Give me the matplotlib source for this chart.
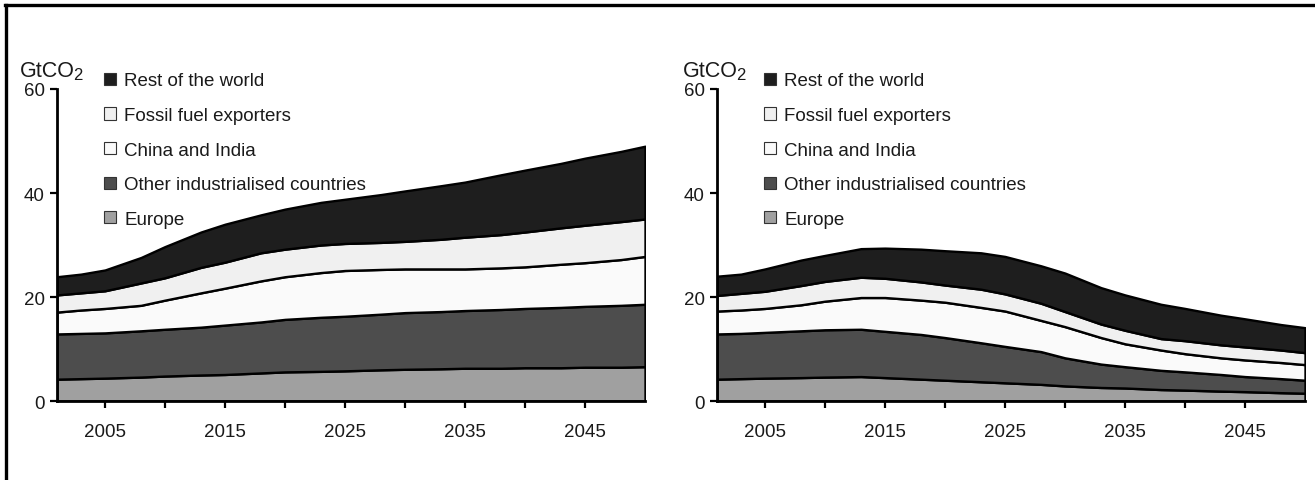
import matplotlib
matplotlib.use("Agg")
import matplotlib.pyplot as plt
from matplotlib.patches import Patch
from matplotlib.lines import Line2D

plt.rcParams['font.family'] = ['Liberation Sans', 'DejaVu Sans']

years = [2001, 2003, 2005, 2008, 2010, 2013, 2015, 2018, 2020, 2023, 2025,
         2028, 2030, 2033, 2035, 2038, 2040, 2043, 2045, 2048, 2050]

labels = ["Europe", "Other industrialised countries", "China and India",
          "Fossil fuel exporters", "Rest of the world"]
colors = ["#a0a0a0", "#4d4d4d", "#fafafa", "#f0f0f0", "#1e1e1e"]

# cumulative top of each band (GtCO2), left chart
left_europe = [4.2, 4.3, 4.4, 4.6, 4.8, 5.0, 5.1, 5.4, 5.6, 5.7, 5.8,
               6.0, 6.1, 6.2, 6.3, 6.3, 6.4, 6.4, 6.5, 6.5, 6.6]
left_other = [12.9, 13.0, 13.1, 13.5, 13.8, 14.2, 14.6, 15.2, 15.7, 16.1, 16.3,
              16.7, 17.0, 17.2, 17.4, 17.6, 17.8, 18.0, 18.2, 18.4, 18.6]
left_china = [17.1, 17.5, 17.8, 18.4, 19.4, 20.8, 21.7, 23.1, 23.9, 24.7, 25.1,
              25.3, 25.4, 25.4, 25.4, 25.6, 25.8, 26.3, 26.6, 27.2, 27.8]
left_fossil = [20.4, 20.8, 21.2, 22.7, 23.7, 25.7, 26.7, 28.5, 29.2, 30.0, 30.3,
               30.5, 30.7, 31.1, 31.5, 32.0, 32.5, 33.3, 33.8, 34.5, 35.0]
left_rest = [23.9, 24.4, 25.2, 27.6, 29.7, 32.5, 34.0, 35.8, 36.9, 38.2, 38.8,
             39.7, 40.4, 41.4, 42.1, 43.5, 44.4, 45.7, 46.7, 48.0, 49.0]

# cumulative top of each band (GtCO2), right chart
right_europe = [4.2, 4.3, 4.4, 4.5, 4.6, 4.7, 4.5, 4.2, 4.0, 3.7, 3.5,
                3.2, 2.9, 2.6, 2.5, 2.2, 2.1, 1.9, 1.8, 1.6, 1.5]
right_other = [12.9, 13.0, 13.2, 13.5, 13.7, 13.8, 13.4, 12.8, 12.2, 11.2, 10.5,
               9.5, 8.3, 7.1, 6.6, 5.9, 5.6, 5.1, 4.7, 4.3, 4.0]
right_china = [17.3, 17.5, 17.8, 18.5, 19.2, 19.9, 19.9, 19.4, 19.0, 18.0, 17.3,
               15.5, 14.3, 12.2, 11.0, 9.8, 9.1, 8.3, 7.9, 7.4, 7.0]
right_fossil = [20.3, 20.7, 21.1, 22.2, 23.0, 23.8, 23.6, 22.9, 22.3, 21.5, 20.6,
                18.8, 17.2, 14.8, 13.6, 12.0, 11.6, 10.8, 10.4, 9.8, 9.3]
right_rest = [24.0, 24.4, 25.4, 27.1, 28.0, 29.3, 29.4, 29.2, 28.9, 28.5, 27.8,
              26.0, 24.6, 21.8, 20.4, 18.6, 17.8, 16.5, 15.8, 14.7, 14.1]

fig = plt.figure(figsize=(13.15, 4.81), dpi=100)


def draw_panel(rect, tops, ylab_x):
    ax = fig.add_axes(rect)
    lower = [0] * len(years)
    for top, c in zip(tops, colors):
        ax.fill_between(years, lower, top, facecolor=c, edgecolor="black",
                        linewidth=1.7, zorder=2)
        lower = top
    ax.set_xlim(2001, 2050)
    ax.set_ylim(0, 60)
    ax.set_yticks([0, 20, 40, 60])
    ax.set_xticks([2005, 2015, 2025, 2035, 2045])
    ax.set_xticks([2010, 2020, 2030, 2040], minor=True)
    for s in ["top", "right"]:
        ax.spines[s].set_visible(False)
    for s in ["left", "bottom"]:
        ax.spines[s].set_linewidth(2)
        ax.spines[s].set_zorder(3)
    ax.tick_params(which="both", length=5, width=1.6, labelsize=13.5,
                   color="black", labelcolor="#1a1a1a")
    ax.tick_params(axis="x", which="both", pad=11)
    ax.tick_params(axis="y", pad=4)
    ax.set_facecolor("none")

    handles = [Patch(facecolor=c, edgecolor="#333333", linewidth=0.8)
               for c in colors[::-1]]
    ax.legend(handles, labels[::-1], loc="upper left",
              bbox_to_anchor=(0.08, 1.053), frameon=False, fontsize=13.5,
              handlelength=0.62, handleheight=0.62, handletextpad=0.45,
              labelspacing=0.94, borderpad=0, borderaxespad=0,
              labelcolor="#1a1a1a")
    unit = fig.text(ylab_x, 0.84, "GtCO", fontsize=15.5,
                    ha="left", va="baseline", color="#1a1a1a")
    ax.annotate("2", xy=(1, 0), xycoords=unit, xytext=(-1.5, -0.5),
                textcoords="offset points", fontsize=12, ha="left",
                va="bottom", color="#1a1a1a", annotation_clip=False)
    return ax


draw_panel([0.04335, 0.16424, 0.44715, 0.64865],
           [left_europe, left_other, left_china, left_fossil, left_rest], 0.0152)
draw_panel([0.54525, 0.16424, 0.44715, 0.64865],
           [right_europe, right_other, right_china, right_fossil, right_rest], 0.5195)

# frame lines of the original box (top and left)
fig.add_artist(Line2D([0.0049, 0.0049], [0, 0.9875], color="black", linewidth=2.4))
fig.add_artist(Line2D([0.0037, 1.0], [0.9875, 0.9875], color="black", linewidth=2.4))

fig.savefig("out.png", dpi=100)
